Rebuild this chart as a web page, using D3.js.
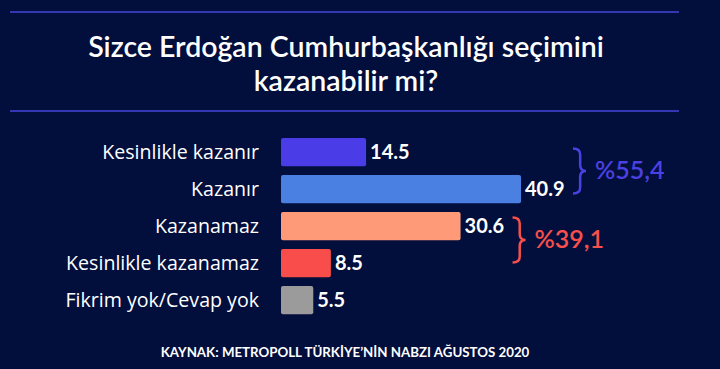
<!DOCTYPE html>
<html>
<head>
<meta charset="utf-8">
<script src="https://cdn.jsdelivr.net/npm/d3@7"></script>
<style>
  body { margin: 0; background: #020e3c; }
  svg { display: block; font-family: Lato, "Open Sans", sans-serif; }
</style>
</head>
<body>
<svg id="chart" width="720" height="369"></svg>
<script>
var categories = ["Kesinlikle kazanır", "Kazanır", "Kazanamaz", "Kesinlikle kazanamaz", "Fikrim yok/Cevap yok"]
var values = [14.5, 40.9, 30.6, 8.5, 5.5]
var barColors = ["#4a3ce6", "#4a80e2", "#ff9a78", "#f84d4a", "#9b9b9b"]

var groupLabels = ["%55,4", "%39,1"]
var groupMembers = [["Kesinlikle kazanır", "Kazanır"], ["Kazanamaz", "Kesinlikle kazanamaz"]]
var groupColors = ["#4b41e3", "#f7504c"]

var width = 720,
    height = 369

var svg = d3.select("#chart")

svg.append("rect")
  .attr("width", width)
  .attr("height", height)
  .attr("fill", "#020e3c")

// header rules
svg.selectAll("line.rule")
  .data([12, 111])
  .enter()
  .append("line")
    .attr("class", "rule")
    .attr("x1", 10)
    .attr("x2", 679)
    .attr("y1", function(d) { return d })
    .attr("y2", function(d) { return d })
    .attr("stroke", "#4446d8")
    .attr("stroke-width", 1.5)

var title = svg.append("text")
  .attr("text-anchor", "middle")
  .attr("fill", "white")
  .attr("font-size", 28.5)
  .attr("font-weight", 600)
title.append("tspan").attr("x", 346).attr("y", 57).text("Sizce Erdoğan Cumhurbaşkanlığı seçimini")
title.append("tspan").attr("x", 346).attr("y", 91).text("kazanabilir mi?")

var x = d3.scaleLinear()
  .domain([0, 40.9])
  .range([281, 521])

var y = d3.scaleBand()
  .domain(categories)
  .range([133.6, 318.6])
  .paddingInner(0.24)
  .paddingOuter(0.12)

svg.append('g')
  .selectAll("rect")
  .data(values)
  .enter()
  .append("rect")
    .attr("x", x(0))
    .attr("y", function(d, i) { return y(categories[i]) })
    .attr("width", function(d) { return x(d) - x(0) })
    .attr("height", y.bandwidth())
    .attr("rx", 2)
    .attr("fill", function(d, i) { return barColors[i] })

svg.append('g')
  .selectAll("text")
  .data(categories)
  .enter()
  .append("text")
    .attr("x", 259)
    .attr("y", function(d) { return y(d) + y.bandwidth() / 2 })
    .attr("dy", "0.35em")
    .attr("text-anchor", "end")
    .attr("fill", "white")
    .attr("font-family", "'Open Sans', sans-serif")
    .attr("font-size", 19.6)
    .text(function(d) { return d })

svg.append('g')
  .selectAll("text")
  .data(values)
  .enter()
  .append("text")
    .attr("x", function(d) { return x(d) + 4 })
    .attr("y", function(d, i) { return y(categories[i]) + y.bandwidth() / 2 })
    .attr("dy", "0.35em")
    .attr("fill", "white")
    .attr("font-size", 20)
    .attr("font-weight", "bold")
    .text(function(d) { return d.toFixed(1) })

// curly braces for the grouped totals
function brace(x0, y1, y2, w) {
  var ym = (y1 + y2) / 2, xm = x0 + w * 0.55, r = 6
  return "M" + x0 + "," + y1 +
    " Q" + xm + "," + y1 + " " + xm + "," + (y1 + r) +
    " L" + xm + "," + (ym - r) +
    " Q" + xm + "," + ym + " " + (x0 + w) + "," + ym +
    " Q" + xm + "," + ym + " " + xm + "," + (ym + r) +
    " L" + xm + "," + (y2 - r) +
    " Q" + xm + "," + y2 + " " + x0 + "," + y2
}

var offsets = [0, -5]
groupLabels.forEach(function(lbl, g) {
  var mem = groupMembers[g]
  var maxV = d3.max(mem, function(c) { return values[categories.indexOf(c)] })
  var bx = x(maxV) + 52
  var mid = (y(mem[0]) + y(mem[mem.length - 1]) + y.bandwidth()) / 2 + offsets[g]
  svg.append("path")
    .attr("d", brace(bx, mid - 22, mid + 23, 13))
    .attr("fill", "none")
    .attr("stroke", groupColors[g])
    .attr("stroke-width", 2.5)
  svg.append("text")
    .attr("x", bx + 22)
    .attr("y", mid)
    .attr("dy", "0.35em")
    .attr("fill", groupColors[g])
    .attr("font-size", 25)
    .attr("font-weight", 600)
    .text(lbl)
})

svg.append("text")
  .attr("x", 345)
  .attr("y", 357)
  .attr("text-anchor", "middle")
  .attr("fill", "white")
  .attr("font-size", 13.3)
  .attr("font-weight", "bold")
  .text("KAYNAK: METROPOLL TÜRKİYE’NİN NABZI AĞUSTOS 2020")
</script>
</body>
</html>
